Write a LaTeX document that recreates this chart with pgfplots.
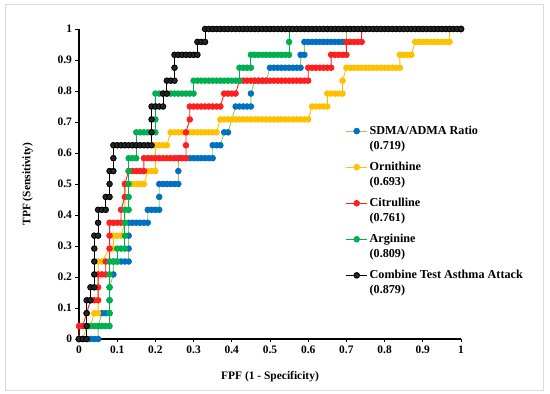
\documentclass[border=0pt]{standalone}
\usepackage{pgfplots}
\pgfplotsset{compat=1.18}
\usepackage{fontspec}
\setmainfont{Liberation Serif}
\definecolor{cblue}{HTML}{0070C0}
\definecolor{clgreen}{HTML}{92D050}
\definecolor{cyellow}{HTML}{FFC000}
\definecolor{cred}{HTML}{FF1F1F}
\definecolor{cgreen}{HTML}{00B050}
\begin{document}
\begin{tikzpicture}
\begin{axis}[
  scale only axis, width=382bp, height=310bp,
  xmin=0, xmax=1, ymin=0, ymax=1,
  axis lines=left, axis line style={-, line width=1.1bp, black},
  tick align=outside, major tick length=3.5bp, tick style={line width=0.9bp, black},
  xtick={0,0.1,...,1}, ytick={0,0.1,...,1},
  /pgf/number format/assume math mode=true,
  tick label style={font=\fontsize{11.5}{13}\selectfont\bfseries},
  xlabel={FPF (1 - Specificity)}, ylabel={TPF (Sensitivity)},
  label style={font=\fontsize{11.5}{13}\selectfont\bfseries},
  xlabel style={yshift=-11bp},
  ylabel style={yshift=18bp},
  clip=false,
  every axis plot/.append style={line width=0.9bp},
  legend image code/.code={\draw[yshift=7.5bp,mark repeat=2,mark phase=2,#1] plot coordinates {(0bp,0bp)(10.5bp,0bp)(21bp,0bp)};},
  legend style={at={(0.69,0.70)}, anchor=north west, draw=none, fill=none,
    font=\fontsize{12.2}{15}\selectfont\bfseries, row sep=7.2bp,
    cells={anchor=west, align=left}},
  legend cell align=left,
]
% SDMA/ADMA Ratio
\addplot[color=clgreen, mark=*, mark size=2.8pt, mark options={draw=cblue, fill=cblue}] coordinates {
(0,0)(0.01,0)(0.02,0)(0.03,0)(0.04,0)(0.05,0)(0.05,0.0417)(0.06,0.0833)(0.07,0.0833)(0.08,0.0833)
(0.08,0.125)(0.08,0.1667)(0.09,0.2083)(0.09,0.25)(0.10,0.25)(0.11,0.25)(0.12,0.25)(0.13,0.25)
(0.13,0.2917)(0.13,0.3333)(0.13,0.375)(0.14,0.375)(0.15,0.375)(0.16,0.375)(0.17,0.375)(0.18,0.375)
(0.18,0.4167)(0.19,0.4167)(0.20,0.4167)(0.21,0.4167)(0.21,0.4583)(0.21,0.5)(0.22,0.5)(0.23,0.5)(0.24,0.5)(0.25,0.5)(0.26,0.5)
(0.26,0.5417)(0.26,0.5833)(0.27,0.5833)(0.28,0.5833)(0.29,0.5833)(0.30,0.5833)(0.31,0.5833)(0.32,0.5833)(0.33,0.5833)(0.34,0.5833)(0.35,0.5833)
(0.35,0.625)(0.36,0.625)(0.37,0.625)(0.38,0.6667)(0.39,0.6667)
(0.41,0.75)(0.42,0.75)(0.43,0.75)(0.44,0.75)(0.45,0.75)(0.45,0.7917)
(0.46,0.8333)(0.47,0.8333)(0.48,0.8333)(0.49,0.8333)
(0.50,0.875)(0.51,0.875)(0.52,0.875)(0.53,0.875)(0.54,0.875)(0.55,0.875)(0.56,0.875)(0.57,0.875)(0.58,0.875)
(0.58,0.9167)(0.59,0.9167)(0.59,0.9583)(0.60,0.9583)(0.61,0.9583)(0.62,0.9583)(0.63,0.9583)(0.64,0.9583)(0.65,0.9583)(0.66,0.9583)(0.67,0.9583)(0.68,0.9583)(0.69,0.9583)(0.70,0.9583)
(0.70,1)(1,1)};
\addlegendentry{SDMA/ADMA Ratio\\(0.719)}
% Ornithine
\addplot[color=cyellow, mark=*, mark size=2.8pt, mark options={draw=cyellow, fill=cyellow}] coordinates {
(0,0)(0.01,0)(0.02,0.0417)(0.03,0.0417)(0.04,0.0833)(0.05,0.0833)(0.05,0.25)(0.06,0.25)
(0.08,0.2917)(0.09,0.2917)(0.09,0.3333)(0.10,0.3333)(0.11,0.3333)(0.12,0.375)
(0.12,0.5)(0.13,0.5)(0.14,0.5)(0.15,0.5)(0.16,0.5)(0.17,0.5)
(0.18,0.5417)(0.19,0.5417)(0.20,0.5417)(0.20,0.625)(0.21,0.625)(0.22,0.625)(0.23,0.625)
(0.24,0.6667)(0.25,0.6667)(0.26,0.6667)(0.27,0.6667)(0.28,0.6667)(0.29,0.6667)(0.30,0.6667)(0.31,0.6667)(0.32,0.6667)(0.33,0.6667)(0.34,0.6667)(0.35,0.6667)(0.36,0.6667)
(0.37,0.7083)(0.38,0.7083)(0.39,0.7083)(0.40,0.7083)(0.41,0.7083)(0.42,0.7083)(0.43,0.7083)(0.44,0.7083)(0.45,0.7083)(0.46,0.7083)(0.47,0.7083)(0.48,0.7083)(0.49,0.7083)(0.50,0.7083)(0.51,0.7083)(0.52,0.7083)(0.53,0.7083)(0.54,0.7083)(0.55,0.7083)(0.56,0.7083)(0.57,0.7083)(0.58,0.7083)(0.59,0.7083)(0.60,0.7083)
(0.61,0.75)(0.62,0.75)(0.63,0.75)(0.64,0.75)(0.65,0.75)(0.65,0.7917)(0.66,0.7917)(0.67,0.7917)(0.68,0.7917)(0.69,0.7917)(0.69,0.8333)
(0.70,0.875)(0.71,0.875)(0.72,0.875)(0.73,0.875)(0.74,0.875)(0.75,0.875)(0.76,0.875)(0.77,0.875)(0.78,0.875)(0.79,0.875)(0.80,0.875)(0.81,0.875)(0.82,0.875)(0.83,0.875)(0.84,0.875)
(0.84,0.9167)(0.85,0.9167)(0.86,0.9167)(0.87,0.9167)
(0.88,0.9583)(0.89,0.9583)(0.90,0.9583)(0.91,0.9583)(0.92,0.9583)(0.93,0.9583)(0.94,0.9583)(0.95,0.9583)(0.96,0.9583)(0.97,0.9583)
(0.97,1)(1,1)};
\addlegendentry{Ornithine\\(0.693)}
% Citrulline
\addplot[color=cred, mark=*, mark size=2.8pt, mark options={draw=cred, fill=cred}] coordinates {
(0,0)(0,0.0417)(0.01,0.0417)(0.02,0.0833)(0.03,0.125)(0.04,0.125)(0.05,0.125)(0.05,0.1667)
(0.05,0.2083)(0.06,0.2083)(0.07,0.2083)(0.07,0.25)(0.08,0.25)(0.08,0.2917)(0.08,0.3333)(0.08,0.375)(0.09,0.375)(0.10,0.375)(0.11,0.375)
(0.11,0.4167)(0.12,0.4583)(0.12,0.5)(0.13,0.5417)(0.14,0.5417)(0.15,0.5417)(0.16,0.5417)(0.17,0.5417)
(0.17,0.5833)(0.18,0.5833)(0.19,0.5833)(0.20,0.5833)(0.21,0.5833)(0.22,0.5833)(0.23,0.5833)(0.24,0.5833)(0.25,0.5833)(0.26,0.5833)(0.27,0.5833)(0.28,0.5833)
(0.28,0.625)(0.28,0.6667)(0.29,0.7083)(0.29,0.75)(0.30,0.75)(0.31,0.75)(0.32,0.75)(0.33,0.75)(0.34,0.75)(0.35,0.75)(0.36,0.75)(0.37,0.75)
(0.38,0.7917)(0.39,0.7917)(0.40,0.7917)(0.41,0.7917)
(0.42,0.8333)(0.43,0.8333)(0.44,0.8333)(0.45,0.8333)(0.46,0.8333)(0.47,0.8333)(0.48,0.8333)(0.49,0.8333)(0.50,0.8333)(0.51,0.8333)(0.52,0.8333)(0.53,0.8333)(0.54,0.8333)(0.55,0.8333)(0.56,0.8333)(0.57,0.8333)(0.58,0.8333)(0.59,0.8333)(0.60,0.8333)
(0.60,0.875)(0.61,0.875)(0.62,0.875)(0.63,0.875)(0.64,0.875)(0.65,0.875)(0.66,0.875)
(0.66,0.9167)(0.67,0.9167)(0.68,0.9167)(0.69,0.9167)(0.70,0.9167)
(0.70,0.9583)(0.71,0.9583)(0.72,0.9583)(0.73,0.9583)(0.74,0.9583)
(0.74,1)(1,1)};
\addlegendentry{Citrulline\\(0.761)}
% Arginine
\addplot[color=cgreen, mark=*, mark size=2.8pt, mark options={draw=cgreen, fill=cgreen}] coordinates {
(0,0)(0.01,0)(0.02,0)(0.02,0.0417)(0.03,0.0417)(0.04,0.0417)(0.05,0.0417)(0.06,0.0417)(0.07,0.0417)(0.08,0.0417)
(0.08,0.0833)(0.08,0.125)(0.08,0.1667)(0.08,0.2083)(0.08,0.25)(0.09,0.25)(0.10,0.25)
(0.10,0.2917)(0.11,0.2917)(0.12,0.2917)(0.12,0.3333)(0.12,0.375)(0.12,0.4167)(0.13,0.4167)
(0.13,0.4583)(0.13,0.5)(0.13,0.5417)(0.13,0.5833)(0.14,0.5833)(0.15,0.5833)
(0.15,0.625)(0.15,0.6667)(0.16,0.6667)(0.17,0.6667)(0.18,0.6667)(0.19,0.6667)(0.20,0.6667)
(0.20,0.7083)(0.20,0.75)(0.20,0.7917)(0.21,0.7917)(0.22,0.7917)(0.23,0.7917)(0.24,0.7917)(0.25,0.7917)(0.26,0.7917)(0.27,0.7917)(0.28,0.7917)(0.29,0.7917)(0.30,0.7917)
(0.30,0.8333)(0.31,0.8333)(0.32,0.8333)(0.33,0.8333)(0.34,0.8333)(0.35,0.8333)(0.36,0.8333)(0.37,0.8333)(0.38,0.8333)(0.39,0.8333)(0.40,0.8333)(0.41,0.8333)(0.42,0.8333)
(0.42,0.875)(0.43,0.875)(0.44,0.875)(0.45,0.875)
(0.45,0.9167)(0.46,0.9167)(0.47,0.9167)(0.48,0.9167)(0.49,0.9167)(0.50,0.9167)(0.51,0.9167)(0.52,0.9167)(0.53,0.9167)(0.54,0.9167)(0.55,0.9167)
(0.55,0.9583)(0.55,1)(1,1)};
\addlegendentry{Arginine\\(0.809)}
% Combine Test
\addplot[color=black, mark=*, mark size=2.8pt, mark options={draw=black, fill=black!85}] coordinates {
(0,0)(0.01,0)(0.02,0)(0.02,0.0417)(0.02,0.0833)(0.02,0.125)(0.03,0.125)(0.03,0.1667)(0.04,0.1667)
(0.04,0.2083)(0.04,0.25)(0.04,0.2917)(0.04,0.3333)(0.05,0.3333)(0.05,0.375)(0.05,0.4167)(0.06,0.4167)(0.07,0.4167)
(0.07,0.4583)(0.08,0.4583)(0.08,0.5)(0.08,0.5417)(0.09,0.5417)(0.09,0.5833)
(0.09,0.625)(0.10,0.625)(0.11,0.625)(0.12,0.625)(0.13,0.625)(0.14,0.625)(0.15,0.625)(0.16,0.625)(0.17,0.625)(0.18,0.625)(0.19,0.625)
(0.19,0.6667)(0.19,0.7083)(0.19,0.75)(0.20,0.75)(0.21,0.75)(0.22,0.75)(0.22,0.7917)(0.23,0.7917)
(0.23,0.8333)(0.24,0.8333)(0.25,0.8333)(0.25,0.875)(0.25,0.9167)(0.26,0.9167)(0.27,0.9167)(0.28,0.9167)(0.29,0.9167)(0.30,0.9167)(0.31,0.9167)
(0.31,0.9583)(0.32,0.9583)(0.33,0.9583)
(0.33,1)(0.34,1)(0.35,1)(0.36,1)(0.37,1)(0.38,1)(0.39,1)(0.40,1)(0.41,1)(0.42,1)(0.43,1)(0.44,1)(0.45,1)(0.46,1)(0.47,1)(0.48,1)(0.49,1)
(0.50,1)(0.51,1)(0.52,1)(0.53,1)(0.54,1)(0.55,1)(0.56,1)(0.57,1)(0.58,1)(0.59,1)(0.60,1)(0.61,1)(0.62,1)(0.63,1)(0.64,1)(0.65,1)(0.66,1)
(0.67,1)(0.68,1)(0.69,1)(0.70,1)(0.71,1)(0.72,1)(0.73,1)(0.74,1)(0.75,1)(0.76,1)(0.77,1)(0.78,1)(0.79,1)(0.80,1)(0.81,1)(0.82,1)(0.83,1)
(0.84,1)(0.85,1)(0.86,1)(0.87,1)(0.88,1)(0.89,1)(0.90,1)(0.91,1)(0.92,1)(0.93,1)(0.94,1)(0.95,1)(0.96,1)(0.97,1)(0.98,1)(0.99,1)(1,1)};
\addlegendentry{Combine Test Asthma Attack\\(0.879)}
\end{axis}
\draw[black!15, line width=0.8bp] (-74bp,-51bp) rectangle (464bp,335bp);
\pgfresetboundingbox
\path (-79bp,-55bp) rectangle (471bp,339bp);
\end{tikzpicture}
\end{document}
